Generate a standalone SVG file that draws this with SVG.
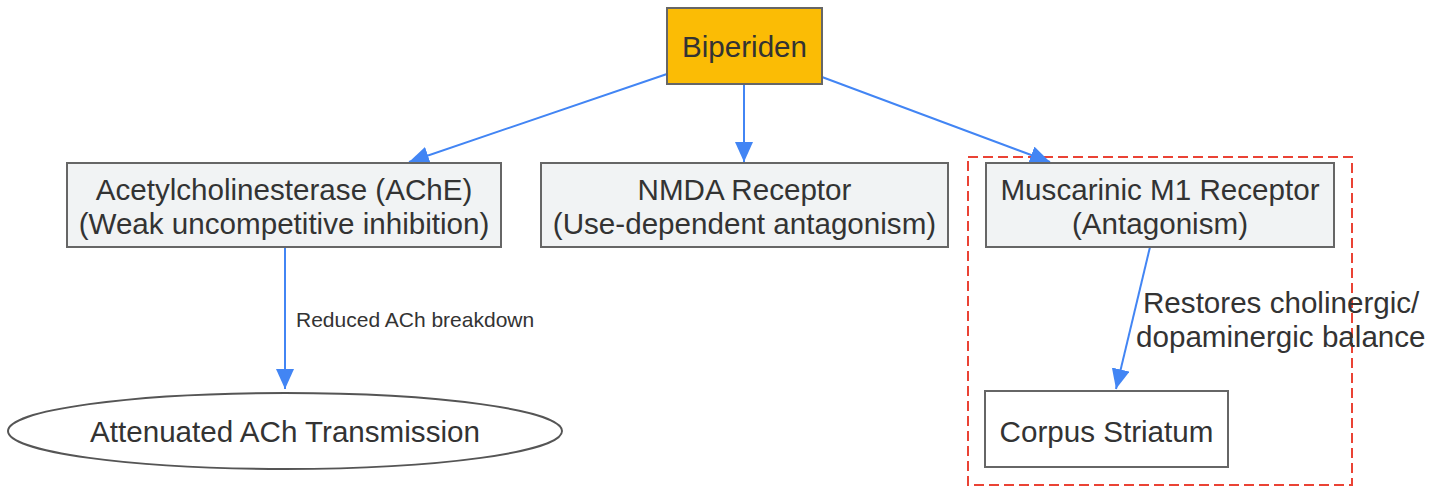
<svg xmlns="http://www.w3.org/2000/svg" width="1443" height="486" viewBox="0 0 1443 486">
<style>
text{font-family:"Liberation Sans",Arial,sans-serif;fill:#333;text-anchor:middle}
.n{font-size:29.6px}
.s{font-size:21px;text-anchor:start}
.l{font-size:29.6px;text-anchor:start}
.box{fill:#F1F3F4;stroke:#666;stroke-width:2}
.e{stroke:#4285F4;stroke-width:2;fill:none;marker-end:url(#a)}
</style>
<defs>
<marker id="a" markerUnits="userSpaceOnUse" markerWidth="22" markerHeight="20" viewBox="0 0 22 20" refX="20" refY="9" orient="auto">
<path d="M0,0 L20,9 L0,18 z" fill="#4285F4"/>
</marker>
</defs>
<rect x="968" y="157" width="384" height="328" fill="none" stroke="#EA4335" stroke-width="2" stroke-dasharray="10,5"/>
<g id="connectors">
<line class="e" x1="667" y1="74" x2="409" y2="162"/>
<line class="e" x1="744" y1="84" x2="744" y2="162"/>
<line class="e" x1="822" y1="77" x2="1050" y2="162"/>
<line class="e" x1="285" y1="247" x2="285" y2="389"/>
<line class="e" x1="1150" y1="247" x2="1116" y2="389"/>
<text class="s" x="296" y="327">Reduced ACh breakdown</text>
<text class="l" x="1143" y="313">Restores cholinergic/</text>
<text class="l" x="1136" y="347">dopaminergic balance</text>
</g>
<g id="biperiden">
<rect x="667" y="8" width="155" height="76" fill="#FBBC05" stroke="#666" stroke-width="2"/>
<text class="n" x="744.5" y="57">Biperiden</text>
</g>
<g id="ache">
<rect class="box" x="67" y="163" width="434" height="84"/>
<text class="n" x="284" y="200">Acetylcholinesterase (AChE)</text>
<text class="n" x="284" y="234">(Weak uncompetitive inhibition)</text>
</g>
<g id="nmda">
<rect class="box" x="541" y="163" width="407" height="84"/>
<text class="n" x="744.5" y="200">NMDA Receptor</text>
<text class="n" x="744.5" y="234">(Use-dependent antagonism)</text>
</g>
<g id="m1">
<rect class="box" x="986" y="163" width="348" height="84"/>
<text class="n" x="1160" y="200">Muscarinic M1 Receptor</text>
<text class="n" x="1160" y="234">(Antagonism)</text>
</g>
<g id="ach">
<ellipse cx="285" cy="431" rx="277" ry="38" fill="#fff" stroke="#555" stroke-width="2"/>
<text class="n" x="285" y="442">Attenuated ACh Transmission</text>
</g>
<g id="striatum">
<rect x="985" y="391" width="243" height="76" fill="#fff" stroke="#666" stroke-width="2"/>
<text class="n" x="1106.5" y="442">Corpus Striatum</text>
</g>
</svg>
